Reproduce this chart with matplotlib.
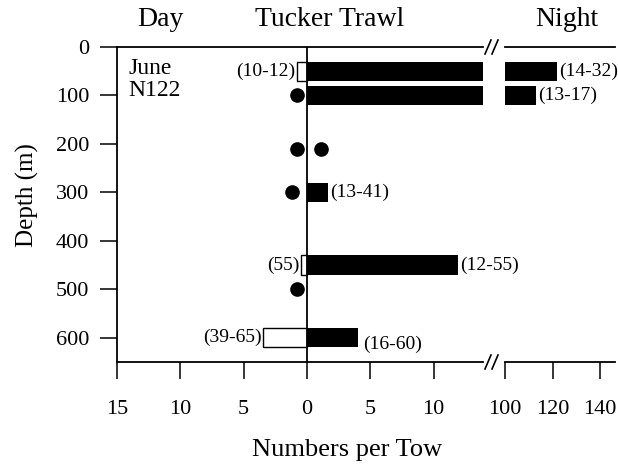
import matplotlib
matplotlib.use("Agg")
import matplotlib.pyplot as plt
from matplotlib.lines import Line2D

plt.rcParams['font.family'] = ['Liberation Serif', 'DejaVu Serif']

# --- data (numbers per tow, June N122) ---
bar_depths = [50, 100, 300, 450, 600]
night_bars = [122, 113, 1.7, 11.9, 4.0]
day_bar_depths = [50, 450, 600]
day_bars = [0.8, 0.5, 3.5]

day_dot_depths = [100, 210, 300, 500]
day_dots = [0.8, 0.8, 1.2, 0.8]
night_dot_depths = [210]
night_dots = [1.1]

night_labels = ["(14-32)", "(13-17)", "(13-41)", "(12-55)", "(16-60)"]
day_labels = ["(10-12)", "(55)", "(39-65)"]

left_ticks = [-15, -10, -5, 0, 5, 10]
right_ticks = [100, 120, 140]
depth_ticks = [0, 100, 200, 300, 400, 500, 600]

W, H = 618, 468
fig = plt.figure(figsize=(W / 100, H / 100), dpi=100)

def px_box(x0, x1, y0, y1):
    return [x0 / W, 1 - y1 / H, (x1 - x0) / W, (y1 - y0) / H]

ax1 = fig.add_axes(px_box(117, 483, 47, 362))
ax2 = fig.add_axes(px_box(505, 615, 47, 362))
ax2.set_facecolor('none')

for ax in (ax1, ax2):
    ax.set_ylim(650, 0)
    ax.spines['right'].set_visible(False)
    for s in ax.spines.values():
        s.set_linewidth(1.3)
    ax.tick_params(axis='both', direction='out', length=12, width=1.1,
                   labelsize=16, top=False, right=False)
    ax.tick_params(axis='x', pad=15)

ax1.set_xlim(-15, 13.9)
ax2.set_xlim(100, 146.3)
ax2.spines['left'].set_visible(False)
ax2.tick_params(axis='y', left=False, labelleft=False)

ax1.set_xticks(left_ticks)
ax1.set_xticklabels([str(abs(t)) for t in left_ticks])
ax2.set_xticks(right_ticks)
ax1.set_yticks(depth_ticks)
ax1.tick_params(axis='y', pad=8)

ax1.axvline(0, color='black', lw=1.3, zorder=3)

bh = 40
# night: black bars, the two shallow ones run on past the break
for ax in (ax1, ax2):
    ax.barh(bar_depths, night_bars, height=bh, color='black', zorder=2)
ax1.barh(day_bar_depths, [-v for v in day_bars], height=bh,
         facecolor='white', edgecolor='black', lw=1.0, zorder=2)

ax1.plot([-v for v in day_dots], day_dot_depths, 'o', color='black', ms=9.5)
ax1.plot(night_dots, night_dot_depths, 'o', color='black', ms=9.5)

# range labels
lab_kw = dict(textcoords='offset points', fontsize=14, va='center',
              annotation_clip=False, zorder=5)
for d, v, lab in zip(bar_depths, night_bars, night_labels):
    ax = ax2 if v > 100 else ax1
    dy = -5 if d == 600 else 0
    dx = 4 if d == 600 else 1.5
    ax.annotate(lab, (v, d), xytext=(dx, dy), ha='left', **lab_kw)
for d, v, lab in zip(day_bar_depths, day_bars, day_labels):
    ax1.annotate(lab, (-v, d), xytext=(-1, 0), ha='right', **lab_kw)

ax1.text(-14.1, 22, "June\nN122", fontsize=17, va='top', ha='left',
         linespacing=1.1)

# headings
fig.text(160 / W, 1 - 26 / H, "Day", fontsize=20, ha='center', va='baseline')
fig.text(330 / W, 1 - 26 / H, "Tucker Trawl", fontsize=20, ha='center', va='baseline')
fig.text(567 / W, 1 - 26 / H, "Night", fontsize=20, ha='center', va='baseline')
fig.text(347 / W, 1 - 450 / H, "Numbers per Tow", fontsize=19, ha='center', va='center')
fig.text(27 / W, 1 - 195 / H, "Depth (m)", fontsize=18, ha='center', va='center',
         rotation=90)

# axis break marks
for yb in (47, 362):
    for xs in (485, 492):
        fig.add_artist(Line2D([xs / W, (xs + 6) / W],
                              [1 - (yb + 7) / H, 1 - (yb - 7) / H],
                              transform=fig.transFigure, color='black', lw=1.2))

fig.savefig("out.png", dpi=100)
